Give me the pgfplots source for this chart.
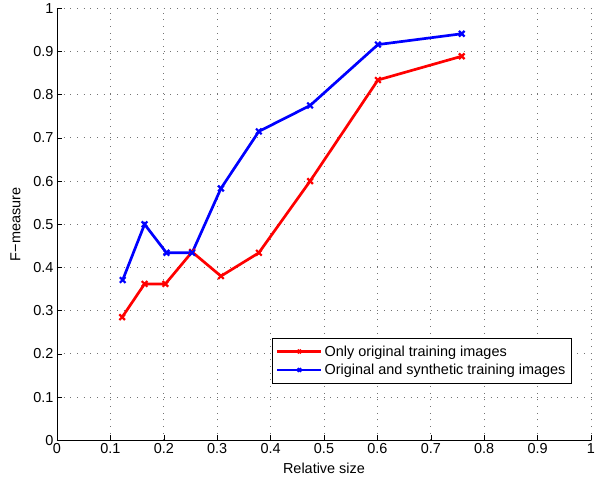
\documentclass[border=0pt]{standalone}
\usepackage{pgfplots}
\pgfplotsset{compat=1.18}
\usepackage{fontspec}
\setmainfont{Liberation Sans}
\begin{document}
\begin{tikzpicture}
\begin{axis}[
  name=ax,
  scale only axis,
  width=534bp, height=432bp,
  xmin=0, xmax=1, ymin=0, ymax=1,
  axis x line*=bottom, axis y line*=left,
  xtick={0,0.1,...,1.0001}, ytick={0,0.1,...,1.0001},
  xticklabels={0,0.1,0.2,0.3,0.4,0.5,0.6,0.7,0.8,0.9,1},
  yticklabels={0,0.1,0.2,0.3,0.4,0.5,0.6,0.7,0.8,0.9,1},
  tick align=inside,
  major tick length=5bp,
  tick style={black, line width=0.6pt},
  grid=major,
  grid style={black!55, line width=0.8pt, dash pattern=on 0.8bp off 5.87bp},
  axis line style={black, line width=0.7pt},
  ticklabel style={font=\fontsize{14.5}{17}\selectfont},
  label style={font=\fontsize{14.5}{17}\selectfont},
  xlabel={Relative size},
  ylabel={F\kern0.3pt−\kern0.3pt measure},
  xlabel style={yshift=-2bp},
  ylabel style={yshift=6bp},
  legend style={at={(0.964,0.132)}, anchor=south east, draw=black, line width=0.7pt,
    font=\fontsize{14.5}{17}\selectfont, row sep=2.5pt, inner xsep=4pt, inner ysep=5pt, cells={anchor=west}},
  legend image code/.code={\draw[mark repeat=2,mark phase=2,#1] plot coordinates {(0bp,0bp) (22bp,0bp) (44bp,0bp)};},
  legend image post style={line width=2.4pt, mark size=2.5pt},
  legend cell align=left,
]
\addplot[red, line width=2.7pt, mark=x, mark size=4pt, mark options={line width=2.2pt}]
coordinates {(0.122,0.285)(0.164,0.362)(0.203,0.362)(0.253,0.436)(0.307,0.380)(0.378,0.434)(0.474,0.600)(0.601,0.834)(0.758,0.889)};
\addlegendentry{Only original training images}
\addplot[blue, line width=2.7pt, mark=x, mark size=4pt, mark options={line width=2.2pt}]
coordinates {(0.123,0.371)(0.164,0.500)(0.205,0.434)(0.253,0.434)(0.307,0.583)(0.378,0.715)(0.474,0.775)(0.601,0.916)(0.758,0.941)};
\addlegendentry{Original and synthetic training images}
\end{axis}
\path[use as bounding box] ([xshift=-57bp,yshift=-43bp]ax.south west) rectangle ++(611bp,482bp);
\end{tikzpicture}
\end{document}
